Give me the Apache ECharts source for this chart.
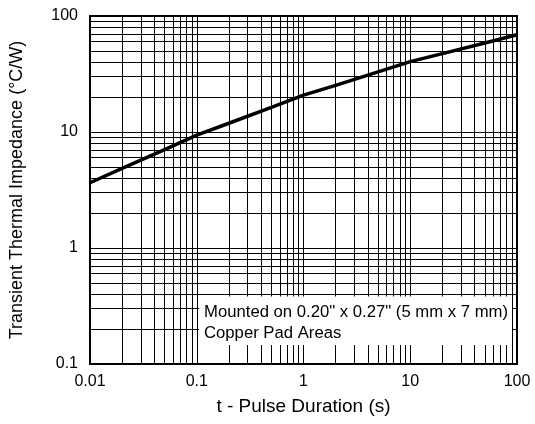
<!DOCTYPE html>
<html><head><meta charset="utf-8">
<script src="https://cdn.jsdelivr.net/npm/echarts@6/dist/echarts.min.js"></script>
<style>html,body{margin:0;padding:0;background:#fff}#c{width:535px;height:424px}</style>
</head><body><div id="c"></div>
<script>
const pulseDuration = [0.01, 0.02, 0.05, 0.1, 0.2, 0.5, 1, 2, 5, 10, 20, 50, 100];
const thermalImpedance = [3.65, 4.85, 7.05, 9.4, 11.9, 16.3, 20.8, 25.2, 33.0, 40.4, 47.4, 58.5, 69];
const xTickLabels = ['0.01', '0.1', '1', '10', '100'];
const yTickLabels = ['0.1', '1', '10', '100'];
const xDecades = [0.01, 0.1, 1, 10];
const yDecades = [0.1, 1, 10];
const minorSteps = [2, 3, 4, 5, 6, 7, 8, 9];
const noteLines = ['Mounted on 0.20" x 0.27" (5 mm x 7 mm)', 'Copper Pad Areas'];

const FONT = '"Liberation Sans", Arial, Helvetica, sans-serif';
const xMinor = [];
xDecades.forEach(d => minorSteps.forEach(m => xMinor.push(+(d * m).toPrecision(6))));
const yMinor = [];
yDecades.forEach(d => minorSteps.forEach(m => yMinor.push(+(d * m).toPrecision(6))));

function pick(labels, v) {
  let best = labels[0], bd = Infinity;
  labels.forEach(l => { const d = Math.abs(Math.log10(+l) - Math.log10(v)); if (d < bd) { bd = d; best = l; } });
  return best;
}

const chart = echarts.init(document.getElementById('c'), null, {renderer: 'canvas'});
chart.setOption({
  animation: false,
  backgroundColor: '#fff',
  grid: {left: 90, right: 18, top: 16, bottom: 60, show: true, borderColor: '#000', borderWidth: 2, backgroundColor: 'transparent'},
  xAxis: {
    type: 'log', logBase: 10, min: 0.01, max: 100,
    name: 't - Pulse Duration (s)', nameLocation: 'middle', nameGap: 33,
    nameTextStyle: {fontSize: 19, color: '#000', fontFamily: FONT},
    axisLine: {show: true, lineStyle: {color: '#000', width: 2}},
    axisTick: {show: false},
    axisLabel: {margin: 10, fontSize: 16, color: '#000', fontFamily: FONT, formatter: v => pick(xTickLabels, v)},
    splitLine: {show: true, lineStyle: {color: '#000', width: 1}}
  },
  yAxis: {
    type: 'log', logBase: 10, min: 0.1, max: 100,
    name: 'Transient Thermal Impedance (°C/W)', nameLocation: 'middle', nameGap: 64, nameRotate: 90,
    nameTextStyle: {fontSize: 18, color: '#000', fontFamily: FONT},
    axisLine: {show: true, lineStyle: {color: '#000', width: 2}},
    axisTick: {show: false},
    axisLabel: {margin: 12, fontSize: 16, color: '#000', fontFamily: FONT, formatter: v => pick(yTickLabels, v)},
    splitLine: {show: true, lineStyle: {color: '#000', width: 1}}
  },
  series: [
    {
      type: 'line', z: 1, silent: true, showSymbol: false, symbol: 'none',
      data: [[1, 1]], lineStyle: {opacity: 0},
      markLine: {
        silent: true, animation: false, symbol: ['none', 'none'],
        label: {show: false},
        lineStyle: {color: '#000', width: 1, type: 'solid'},
        emphasis: {disabled: true},
        data: xMinor.map(v => ({xAxis: v})).concat(yMinor.map(v => ({yAxis: v})))
      }
    },
    {
      type: 'line', z: 5, silent: true, showSymbol: false, symbol: 'none', smooth: false,
      data: pulseDuration.map((x, i) => [x, thermalImpedance[i]]),
      lineStyle: {color: '#000', width: 3.5, join: 'round', cap: 'butt'}
    }
  ],
  graphic: [
    {type: 'rect', z: 100, shape: {x: 199, y: 296.5, width: 313, height: 48.5}, style: {fill: '#fff'}},
    {type: 'text', z: 101, x: 204, y: 312, style: {text: noteLines[0], fontSize: 16.7, fontFamily: FONT, fill: '#000', verticalAlign: 'middle', textVerticalAlign: 'middle'}},
    {type: 'text', z: 101, x: 204, y: 333, style: {text: noteLines[1], fontSize: 16.7, fontFamily: FONT, fill: '#000', verticalAlign: 'middle', textVerticalAlign: 'middle'}}
  ]
});
</script>
</body></html>
